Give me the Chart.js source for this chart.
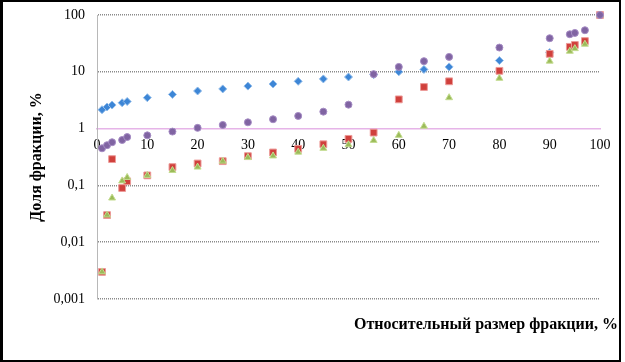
<!DOCTYPE html>
<html>
<head>
<meta charset="utf-8">
<script src="https://cdn.jsdelivr.net/npm/chart.js@4"></script>
<style>
  body { margin: 0; background: #fff; }
  #wrap { position: relative; width: 625px; height: 362px; }
  #frame {
    position: absolute; left: 0; top: 0; width: 621px; height: 362px;
    box-sizing: border-box; border: 2px solid #000; border-left-width: 3px;
    pointer-events: none;
  }
  #xTitle {
    position: absolute; right: 7px; top: 315px;
    font: bold 16px "Liberation Serif", "Times New Roman", serif; color: #000;
    white-space: nowrap;
  }
</style>
</head>
<body>
<div id="wrap">
  <canvas id="chart" width="625" height="362"></canvas>
  <div id="xTitle">Относительный размер фракции, %</div>
  <div id="frame"></div>
</div>
<script>
// Данные (по графику)
const blueX = [1, 2, 3, 5, 6, 10, 15, 20, 25, 30, 35, 40, 45, 50, 55, 60, 65, 70, 80, 90, 100];
const blueY = [2.15, 2.4, 2.6, 2.85, 3.0, 3.5, 4.0, 4.6, 5.0, 5.6, 6.1, 6.8, 7.5, 8.1, 8.9, 10, 11, 12.2, 15.8, 21.8, 100];

const redX = [1, 2, 3, 5, 6, 10, 15, 20, 25, 30, 35, 40, 45, 50, 55, 60, 65, 70, 80, 90, 94, 95, 97, 100];
const redY = [0.003, 0.03, 0.29, 0.09, 0.118, 0.15, 0.21, 0.243, 0.267, 0.327, 0.38, 0.44, 0.53, 0.66, 0.85, 3.27, 5.4, 6.8, 10.4, 20.7, 27.5, 29.7, 34.7, 100];

const greenX = [1, 2, 3, 5, 6, 10, 15, 20, 25, 30, 35, 40, 45, 50, 55, 60, 65, 70, 80, 90, 94, 95, 97, 100];
const greenY = [0.003, 0.03, 0.06, 0.12, 0.138, 0.15, 0.183, 0.21, 0.267, 0.31, 0.33, 0.385, 0.45, 0.52, 0.62, 0.76, 1.1, 3.5, 7.7, 15.4, 23, 25.6, 30.6, 100];

const purpleX = [1, 2, 3, 5, 6, 10, 15, 20, 25, 30, 35, 40, 45, 50, 55, 60, 65, 70, 80, 90, 94, 95, 97, 100];
const purpleY = [0.45, 0.51, 0.575, 0.63, 0.71, 0.76, 0.886, 1.03, 1.16, 1.29, 1.46, 1.67, 1.99, 2.64, 9.1, 12.2, 15.4, 18.3, 26.7, 39, 45.8, 48.3, 53.9, 100];

const yTicks = [0.001, 0.01, 0.1, 1, 10, 100];
const xTicks = [0, 10, 20, 30, 40, 50, 60, 70, 80, 90, 100];

function pts(xs, ys) {
    return xs.map((x, i) => ({ x: x, y: ys[i] }));
}

const serif = '"Liberation Serif", "Times New Roman", serif';

// Порядок: фиолетовый сверху, затем зелёный, красный, синий
const datasets = [
    { label: 'purple', data: pts(purpleX, purpleY), pointStyle: 'circle', pointRadius: 3.5,
      backgroundColor: '#8064a2', borderColor: '#a58cc4', borderWidth: 1 },
    { label: 'green', data: pts(greenX, greenY), pointStyle: 'triangle', pointRadius: 4,
      backgroundColor: '#9bbb59', borderColor: '#c3dc8f', borderWidth: 1 },
    { label: 'red', data: pts(redX, redY), pointStyle: 'rect', pointRadius: 4.8,
      backgroundColor: '#d0403c', borderColor: '#ec9a98', borderWidth: 1 },
    { label: 'blue', data: pts(blueX, blueY), pointStyle: 'rectRot', pointRadius: 4,
      backgroundColor: '#3d86d6', borderColor: '#93bdea', borderWidth: 1 }
];
datasets.forEach(d => { d.clip = false; d.pointHoverRadius = d.pointRadius; });

new Chart(document.getElementById('chart'), {
    type: 'scatter',
    data: { datasets: datasets },
    options: {
        responsive: false,
        animation: false,
        layout: { padding: { left: 0, top: 15, right: 25, bottom: 63 } },
        plugins: { legend: { display: false }, tooltip: { enabled: false } },
        scales: {
            x: {
                type: 'linear',
                position: { y: 1 },
                min: 0, max: 100,
                afterBuildTicks: scale => { scale.ticks = xTicks.map(v => ({ value: v })); },
                grid: { display: false, drawTicks: false },
                border: { display: true, color: '#e6b4e8', width: 1.5 },
                ticks: { color: '#000', padding: 8, font: { family: serif, size: 14 } }
            },
            y: {
                type: 'logarithmic',
                min: 0.001, max: 100,
                afterBuildTicks: scale => { scale.ticks = yTicks.map(v => ({ value: v })); },
                afterFit: scale => {
                    scale.width = 97;
                    scale.paddingTop = 0;
                    scale.paddingBottom = 0;
                },
                grid: {
                    drawTicks: false,
                    color: ctx => (ctx.tick && ctx.tick.value === 1) ? 'rgba(0,0,0,0)' : '#8a8a8a',
                    lineWidth: 1.5
                },
                border: { display: true, color: '#b8b8b8', width: 1, dash: [1, 1] },
                ticks: {
                    color: '#000', padding: 12, font: { family: serif, size: 14 },
                    callback: v => String(v).replace('.', ',')
                },
                title: {
                    display: true,
                    text: 'Доля фракции, %',
                    color: '#000',
                    font: { family: serif, size: 16, weight: 'bold' },
                    padding: { top: 27, bottom: 0 }
                }
            }
        }
    }
});
</script>
</body>
</html>
